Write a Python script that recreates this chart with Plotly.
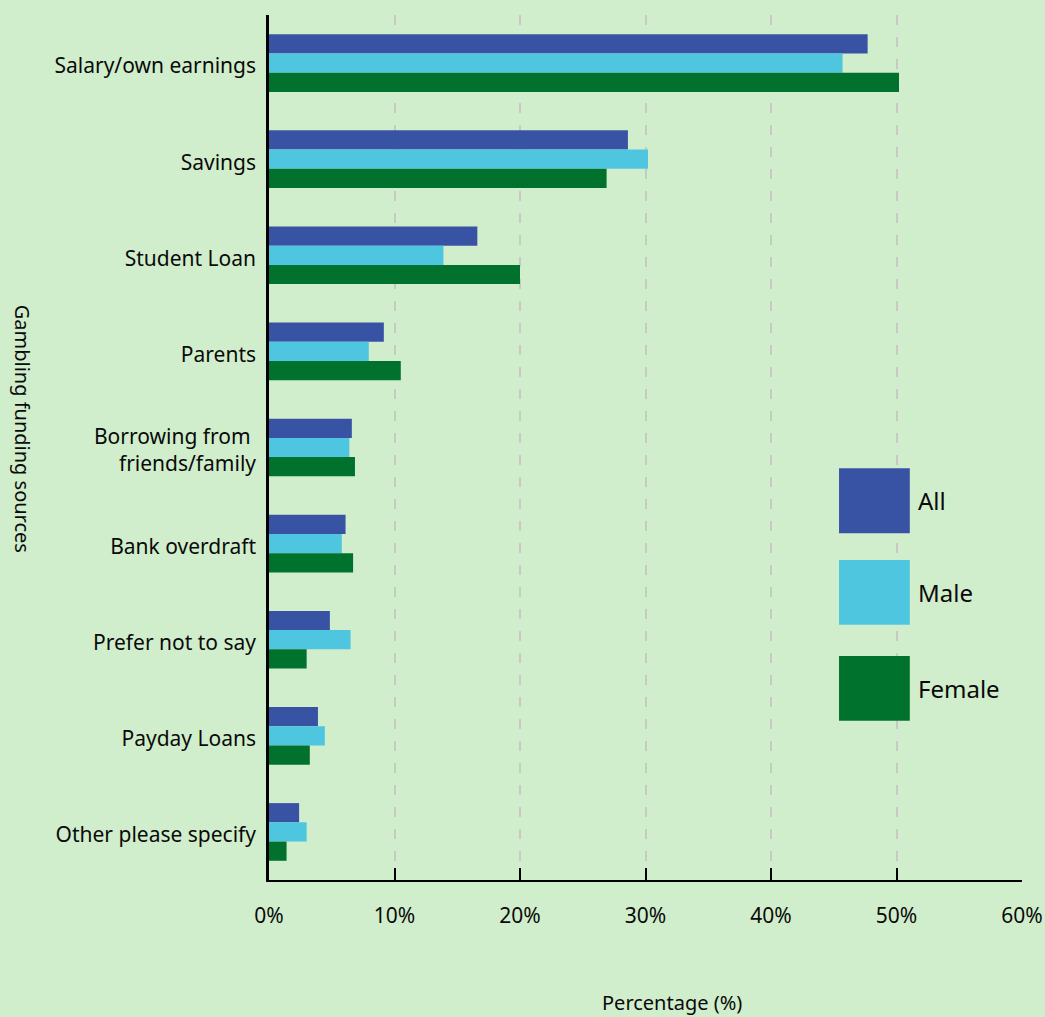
import plotly.graph_objects as go

# Funding sources used for gambling, by respondent group (percent)
categories = [
    "Salary/own earnings",
    "Savings",
    "Student Loan",
    "Parents",
    "Borrowing from <br>friends/family",
    "Bank overdraft",
    "Prefer not to say",
    "Payday Loans",
    "Other please specify",
]
series_names = ["All", "Male", "Female"]
all_values = [47.7, 28.6, 16.6, 9.15, 6.6, 6.1, 4.85, 3.9, 2.4]
male_values = [45.7, 30.2, 13.9, 7.95, 6.4, 5.8, 6.5, 4.45, 3.0]
female_values = [50.2, 26.9, 20.0, 10.5, 6.85, 6.7, 3.0, 3.25, 1.4]
x_ticks = [0, 10, 20, 30, 40, 50, 60]
x_tick_labels = ["0%", "10%", "20%", "30%", "40%", "50%", "60%"]

colors = ["#3853a4", "#4fc6e0", "#00722e"]
bg = "#d1eecc"
font_family = "Noto Sans"
text_color = "#0a0a0a"

fig = go.Figure()
for name, vals, col in zip(series_names, [all_values, male_values, female_values], colors):
    fig.add_trace(go.Bar(
        y=categories, x=vals, name=name, orientation="h",
        marker=dict(color=col, line=dict(width=0)),
        showlegend=False,
    ))

# Hand-built legend: large swatches with labels to their right
swatch_x0, swatch_x1 = 0.757, 0.851
swatch_rows = [(0.476, 0.401), (0.370, 0.295), (0.259, 0.184)]
for name, col, (y1, y0) in zip(series_names, colors, swatch_rows):
    fig.add_shape(type="rect", xref="paper", yref="paper",
                  x0=swatch_x0, x1=swatch_x1, y0=y0, y1=y1,
                  fillcolor=col, line=dict(width=0), layer="above")
    fig.add_annotation(xref="paper", yref="paper", x=0.859, y=(y0 + y1) / 2,
                       text=name, showarrow=False, xanchor="left", yanchor="middle",
                       font=dict(size=24, color=text_color, family=font_family))

fig.add_annotation(xref="paper", yref="paper", x=0.535, y=-0.142,
                   text="Percentage (%)", showarrow=False,
                   xanchor="center", yanchor="middle",
                   font=dict(size=20, color=text_color, family=font_family))
fig.add_annotation(xref="paper", yref="paper", x=-0.327, y=0.522,
                   text="Gambling funding sources", showarrow=False, textangle=90,
                   xanchor="center", yanchor="middle",
                   font=dict(size=20, color=text_color, family=font_family))

fig.update_layout(
    width=1045, height=1017,
    margin=dict(l=269, r=23, t=15, b=137, autoexpand=False),
    paper_bgcolor=bg, plot_bgcolor=bg,
    barmode="group", bargap=0.4, bargroupgap=0,
    font=dict(family=font_family, color=text_color),
)
fig.update_xaxes(
    range=[0, 60], tickvals=x_ticks, ticktext=x_tick_labels,
    showgrid=True, gridcolor="#c6c9c4", gridwidth=1.5, griddash="10px,12px",
    zeroline=False, automargin=False,
    showline=True, linecolor="#000000", linewidth=2,
    ticks="inside", ticklen=12, tickwidth=2, tickcolor="#000000",
    tickfont=dict(size=21, color=text_color), ticklabelstandoff=16,
)
fig.update_yaxes(
    autorange="reversed", showgrid=False, zeroline=False, automargin=False,
    showline=True, linecolor="#000000", linewidth=2.5,
    ticks="", tickfont=dict(size=21, color=text_color), ticklabelstandoff=6,
    ticklabelshift=-3,
)

fig.write_html("out.html")
